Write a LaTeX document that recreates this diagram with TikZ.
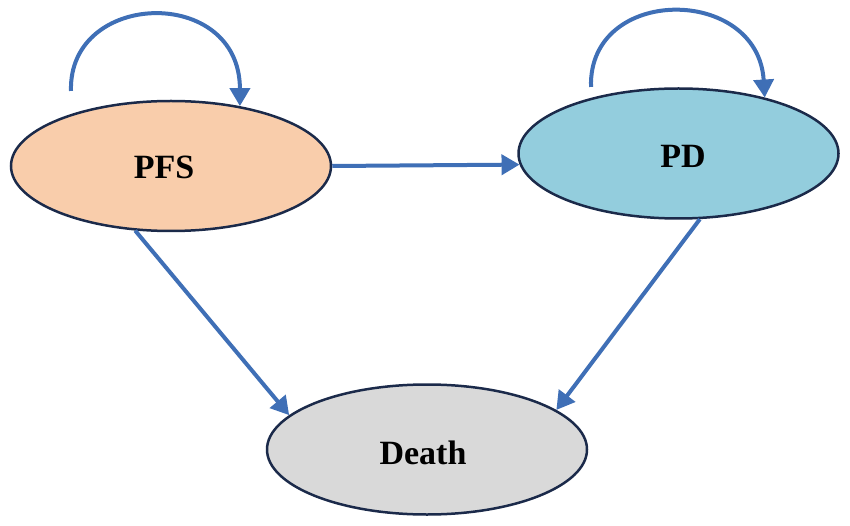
\documentclass[tikz,border=0pt]{standalone}
\usepackage{fontspec}
\setmainfont{Liberation Serif}
\usetikzlibrary{shapes.geometric,arrows.meta}
\definecolor{arrowblue}{HTML}{3F6FB6}
\definecolor{outline}{HTML}{1B2A4A}
\definecolor{pfsfill}{HTML}{F9CDAB}
\definecolor{pdfill}{HTML}{93CDDD}
\definecolor{deathfill}{HTML}{D9D9D9}
\tikzset{
  state/.style={ellipse, draw=outline, line width=2.5pt, minimum width=320pt, minimum height=130pt, inner sep=0pt},
  label/.style={font=\fontsize{34}{34}\selectfont\bfseries, inner sep=0pt},
  trans/.style={draw=arrowblue, line width=4pt, -{Triangle[width=20pt,length=18pt]}}
}
\begin{document}
\begin{tikzpicture}[x=1pt,y=-1pt]
\useasboundingbox (0,0) rectangle (850,526);
\node[state, fill=pfsfill] (pfs) at (171,166) {};
\node[label] (pfst) at (164,167) {PFS};
\node[state, fill=pdfill] (pd) at (678.5,153.5) {};
\node[label] (pdt) at (683,156) {PD};
\node[state, fill=deathfill] (death) at (427,449.5) {};
\node[label] (deatht) at (423,453) {Death};
\coordinate (pfsloop) at (71,91);
\coordinate (pdloop) at (591,87);
\draw[trans] (pfsloop) .. controls (68,-10) and (240,-15) .. (pfs.41);
\draw[trans] (pdloop) .. controls (588,-15) and (758,-15) .. (pd.33);
\draw[trans] (pfs.east) -- (pd.184);
\draw[trans] (pfs.241) -- (death.166);
\draw[trans] (pd.288) -- (death.17);
\end{tikzpicture}
\end{document}
